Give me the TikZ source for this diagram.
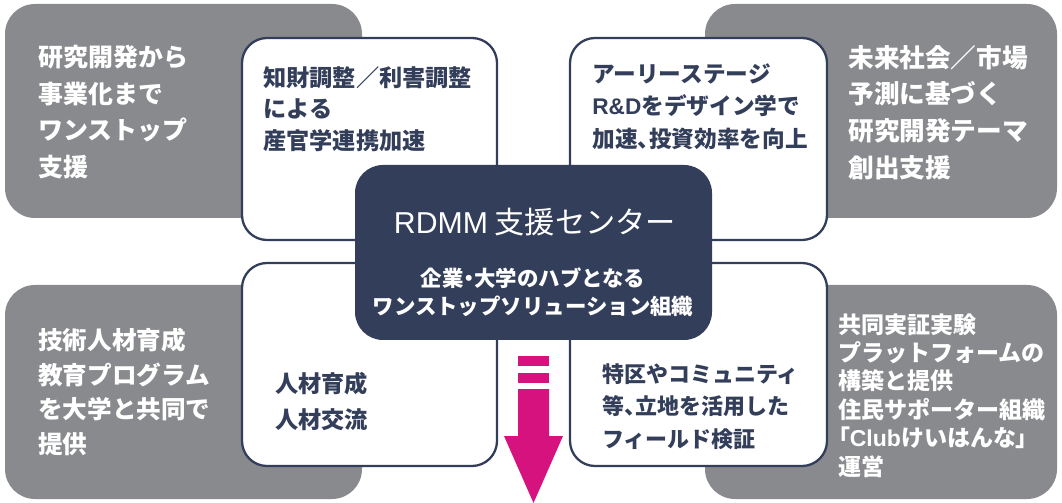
\documentclass[tikz,border=0pt]{standalone}
\usepackage{fontspec}
\setmainfont{Noto Sans CJK JP}
\newfontfamily\latinfont{Liberation Sans}
\newfontfamily\paltfont{Noto Sans CJK JP}[RawFeature=+palt]
\definecolor{panelgray}{HTML}{898A8E}
\definecolor{hubnavy}{HTML}{333F5A}
\definecolor{flowpink}{HTML}{D6127F}

\begin{document}
\begin{tikzpicture}[x=0.02cm, y=-0.02cm,
    outerbox/.style={fill=panelgray, rounded corners=0.6cm},
    innerbox/.style={fill=white, draw=hubnavy, line width=1.3pt, rounded corners=0.5cm},
    outertext/.style={anchor=north west, inner sep=0pt, align=left, text=white},
    innertext/.style={anchor=north west, inner sep=0pt, align=left, text=hubnavy}]
		\useasboundingbox (0,0) rectangle (1062,503);

		% Draw gray panels
		\fill[outerbox] (5,4) rectangle (362,218);
		\fill[outerbox] (705,4) rectangle (1057,218);
		\fill[outerbox] (5,285) rectangle (362,499);
		\fill[outerbox] (705,285) rectangle (1057,499);

		% Draw white panels
		\draw[innerbox] (242,38) rectangle (497,240);
		\draw[innerbox] (570,38) rectangle (827,240);
		\draw[innerbox] (242,263) rectangle (497,466);
		\draw[innerbox] (570,263) rectangle (827,466);

		% Draw hub
		\fill[hubnavy, rounded corners=0.56cm] (355,165) rectangle (712,340);
		\node[text=white, inner sep=0pt, font=\fontsize{17.2}{20}\selectfont] (hubTitle) at (535,222) {{\latinfont RDMM} 支援センター};
		\node[anchor=north, inner sep=0pt, align=center, text=white, font=\bfseries\fontsize{12.2}{16}\selectfont] (hubSub) at (533,267) {企業{\paltfont ・}大学のハブとなる\\ワンストップソリューション組織};

		% Draw arrow
		\fill[flowpink] (518,356) rectangle (549,366);
		\fill[flowpink] (518,373) rectangle (549,383);
		\fill[flowpink] (518,389) -- (549,389) -- (549,436) -- (563,436) -- (533.5,503) -- (504,436) -- (518,436) -- cycle;

		% Gray panel texts
		\node[outertext, font=\bfseries\fontsize{14.2}{20.8}\selectfont] (oneStop) at (38,45) {研究開発から\\事業化まで\\ワンストップ\\支援};
		\node[outertext, font=\bfseries\fontsize{14.6}{20.8}\selectfont] (futureTheme) at (848,45) {未来社会／市場\\予測に基づく\\研究開発テーマ\\創出支援};
		\node[outertext, font=\bfseries\fontsize{14}{19.6}\selectfont] (talentEdu) at (38,328) {技術人材育成\\教育プログラム\\を大学と共同で\\提供};
		\node[outertext, font=\bfseries\fontsize{13.1}{16.2}\selectfont] (demoPlatform) at (838,313) {共同実証実験\\プラットフォームの\\構築と提供\\住民サポーター組織\\{\paltfont 「}{\latinfont Club}けいはんな{\paltfont 」}\\運営};

		% White panel texts
		\node[innertext, font=\bfseries\fontsize{13.2}{18}\selectfont] (ipTuning) at (263,66) {知財調整／利害調整\\による\\産官学連携加速};
		\node[innertext, font=\bfseries\fontsize{12.9}{18.5}\selectfont] (earlyRD) at (592,63) {アーリーステージ\\{\latinfont R\&D}をデザイン学で\\加速{\paltfont 、}投資効率を向上};
		\node[innertext, font=\bfseries\fontsize{13.2}{20.5}\selectfont] (talentFlow) at (275,372) {人材育成\\人材交流};
		\node[innertext, font=\bfseries\fontsize{12.5}{18.5}\selectfont] (fieldTest) at (602,363) {特区やコミュニティ\\等{\paltfont 、}立地を活用した\\フィールド検証};
	\end{tikzpicture}
\end{document}
